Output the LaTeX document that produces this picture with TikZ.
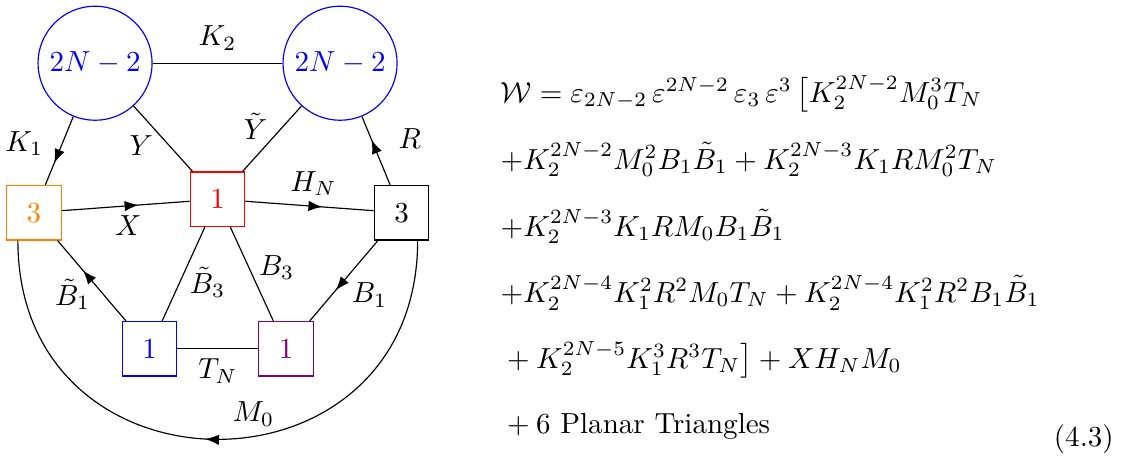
\documentclass[tikz,border=0pt]{standalone}
\usepackage{amsmath, amssymb}
\usepackage{xcolor}
\usepackage{tikz}
\usetikzlibrary{arrows.meta, positioning, decorations.markings}

\begin{document}
\begin{tikzpicture}[
    gauge/.style={circle, draw=blue, text=blue, minimum size=1.38cm, inner sep=0pt},
    flav/.style={rectangle, draw, minimum size=0.66cm, inner sep=0pt},
    midarrow/.style={postaction={decorate}, decoration={markings, mark=at position #1 with {\arrow{Latex}}}},
    midarrow/.default=0.5,
    eqline/.style={anchor=base west, inner sep=0pt}
  ]
    \useasboundingbox (0,0) rectangle (13.61,5.52);

    % Gauge nodes
    \node[gauge] (SpL) at (1.15,4.755) {$2N-2$};
    \node[gauge] (SpR) at (4.114,4.755) {$2N-2$};

    % Flavour nodes
    \node[flav, draw=orange, text=orange] (F3) at (0.411,2.946) {$3$};
    \node[flav, draw=red, text=red] (U1) at (2.632,3.110) {$1$};
    \node[flav] (G3) at (4.858,2.946) {$3$};
    \node[flav, draw=blue, text=blue] (Ua) at (1.809,1.301) {$1$};
    \node[flav, draw=violet, text=violet] (Ub) at (3.461,1.301) {$1$};

    % Bifundamentals
    \draw (SpL) -- node[above=1pt] {$K_2$} (SpR);
    \draw[midarrow=0.68] (SpL) -- node[pos=0.4, left=3pt] {$K_1$} (F3);
    \draw (SpL) -- node[pos=0.6, left=2pt] {$Y$} (U1);
    \draw (SpR) -- node[pos=0.31, left=2pt] {$\tilde{Y}$} (U1);
    \draw[midarrow=0.66] (G3) -- node[pos=0.68, right=6pt] {$R$} (SpR);
    \draw[midarrow=0.6] (F3) -- node[pos=0.52, below] {$X$} (U1);
    \draw[midarrow=0.6] (U1) -- node[pos=0.53, above] {$H_N$} (G3);
    \draw (U1) -- node[pos=0.59, right] {$\tilde{B}_3$} (Ua);
    \draw (U1) -- node[pos=0.43, right] {$B_3$} (Ub);
    \draw[midarrow=0.63] (Ua) -- node[pos=0.33, left=1pt] {$\tilde{B}_1$} (F3);
    \draw[midarrow=0.62] (G3) -- node[pos=0.68, right=3.5pt] {$B_1$} (Ub);
    \draw (Ua) -- node[below] {$T_N$} (Ub);

    % Meson below
    \draw[midarrow=0.52] (G3.-60) to[out=-90, in=-90, looseness=1.7]
        node[pos=0.44, above] {$M_0$} (F3.-120);

    % Superpotential
    \node[eqline] (eq1) at (6.05,4.283) {$\mathcal{W} = \varepsilon_{2N-2}\,\varepsilon^{2N-2}\,\varepsilon_3\,\varepsilon^3\,\big[K_2^{2N-2}M_0^3T_N$};
    \node[eqline] (eq2) at (6.05,3.473) {$+K_2^{2N-2}M_0^2B_1\tilde{B}_1+K_2^{2N-3}K_1RM_0^2T_N$};
    \node[eqline] (eq3) at (6.05,2.662) {$+K_2^{2N-3}K_1RM_0B_1\tilde{B}_1$};
    \node[eqline] (eq4) at (6.05,1.863) {$+K_2^{2N-4}K_1^2R^2M_0T_N+K_2^{2N-4}K_1^2R^2B_1\tilde{B}_1$};
    \node[eqline] (eq5) at (6.05,1.065) {${}+K_2^{2N-5}K_1^3R^3T_N\big]+XH_NM_0$};
    \node[eqline] (eq6) at (6.05,0.278) {${}+6$ Planar Triangles};
    \node[anchor=base east, inner sep=0pt] (eqnum) at (13.48,0.121) {(4.3)};
\end{tikzpicture}
\end{document}
